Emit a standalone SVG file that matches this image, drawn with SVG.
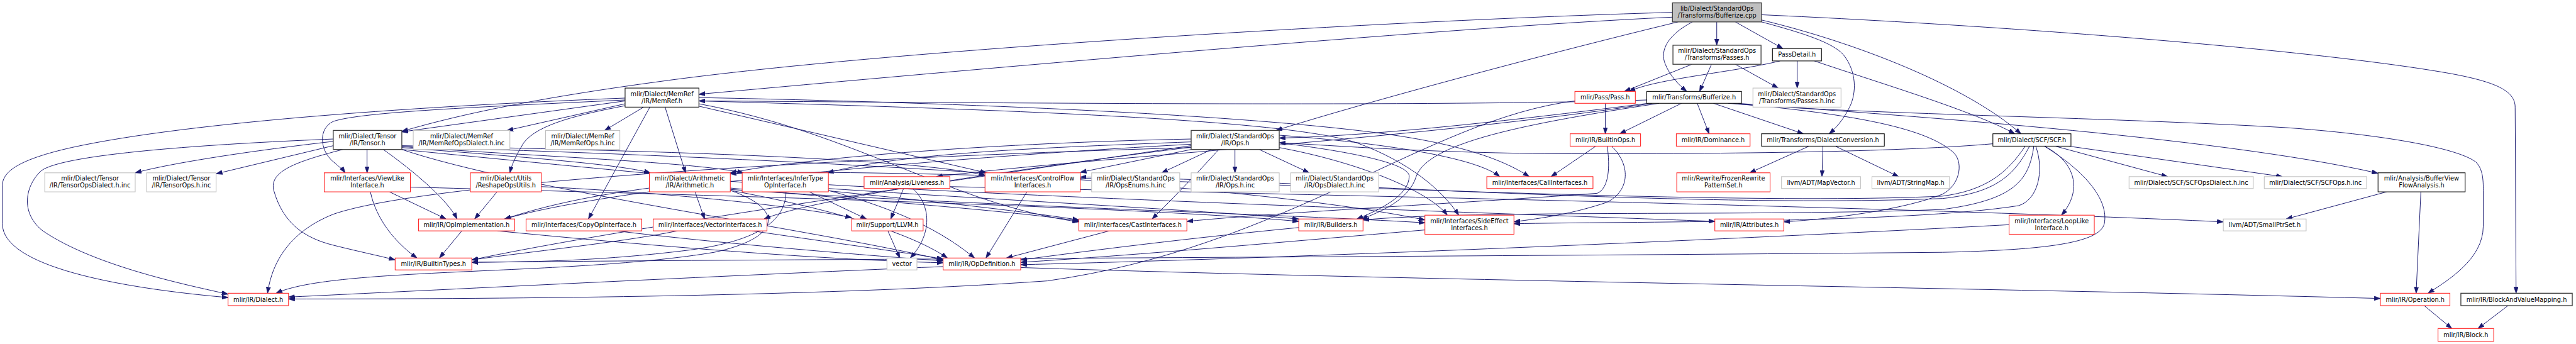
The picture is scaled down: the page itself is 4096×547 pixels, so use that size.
<svg xmlns="http://www.w3.org/2000/svg" width="4096" height="547" viewBox="0 0 4096 547">
<style>
.e{fill:none;stroke:#191970;stroke-width:1.3;marker-end:url(#a)}
rect{fill:#fff;stroke-width:1.4}
.k rect{stroke:#000}
.d rect{stroke:#404040;stroke-width:1.8}
.r rect{stroke:#ff2020}
.g rect{stroke:#bfbfbf}
.root rect{fill:#bfbfbf;stroke:#404040;stroke-width:1.8}
text{font-family:"DejaVu Sans",sans-serif;font-size:13px;fill:#000;text-anchor:middle}
</style>
<defs>
<marker id="a" markerUnits="userSpaceOnUse" markerWidth="13" markerHeight="10" refX="13" refY="5" orient="auto" viewBox="0 0 13 10"><path d="M0,0.5 L13,5 L0,9.5z" fill="#191970" stroke="#191970" stroke-width="1"/></marker>
</defs>
<rect x="0" y="0" width="4096" height="547" style="fill:#fff;stroke:none"/>
<g transform="scale(0.757)">
<g id="edges">
<path class="e" d="M3606,46 L3606,95"/>
<path class="e" d="M3645,46 L3745,102"/>
<path class="e" d="M3555,46 C3505,72 3485,105 3498,135 C3508,160 3528,180 3543,192"/>
<path class="e" d="M3700,46 C3790,70 3850,90 3872,115 C3900,150 3900,195 3885,225 C3872,252 3855,270 3842,281"/>
<path class="e" d="M3700,42 C3900,90 4130,180 4245,281"/>
<path class="e" d="M3700,31 C4300,58 4900,110 5150,155 C5240,172 5283,190 5283,225 L5285,616"/>
<path class="e" d="M3513,26 C3000,40 1900,100 1380,172 C1100,210 950,245 844,276"/>
<path class="e" d="M3513,36 C3000,60 2000,150 1468,198"/>
<path class="e" d="M3525,46 C3300,100 2900,205 2680,274"/>
<path class="e" d="M3554,135 L3412,192"/>
<path class="e" d="M3595,135 L3570,192"/>
<path class="e" d="M3645,135 L3735,185"/>
<path class="e" d="M3739,128 C3640,152 3480,165 3422,192"/>
<path class="e" d="M3775,128 L3775,185"/>
<path class="e" d="M3811,128 C3950,175 4150,235 4232,281"/>
<path class="e" d="M3532,217 L3402,281"/>
<path class="e" d="M3565,217 L3590,281"/>
<path class="e" d="M3599,217 L3788,281"/>
<path class="e" d="M3650,217 C3950,240 4650,285 4995,364"/>
<path class="e" d="M3630,217 C3900,240 4400,245 4800,268 C5000,282 5160,310 5200,340 C5216,355 5216,380 5216,400 L5216,475 C5216,545 5140,590 5100,616"/>
<path class="e" d="M3640,217 C3900,240 4050,270 4105,322 C4125,345 4115,390 4080,408 C4000,440 3850,460 3747,466"/>
<path class="e" d="M3459,210 C3000,225 2000,215 1468,212"/>
<path class="e" d="M3462,217 C3200,250 2900,285 2687,290"/>
<path class="e" d="M3470,217 C3000,290 2300,330 1967,371"/>
<path class="e" d="M3485,217 C3200,260 3000,300 2975,370 C2960,420 2900,445 2860,460"/>
<path class="e" d="M3372,217 L3372,281"/>
<path class="e" d="M3308,212 C3000,250 2700,520 2200,590 C1700,625 1000,628 606,628"/>
<path class="e" d="M3352,307 L3258,371"/>
<path class="e" d="M3385,307 C3425,345 3425,400 3375,425 C3300,450 3240,458 3180,466"/>
<path class="e" d="M3376,307 C3382,350 3380,395 3355,406 C3100,425 2700,445 2493,465"/>
<path class="e" d="M3800,307 L3675,363"/>
<path class="e" d="M3829,307 L3827,371"/>
<path class="e" d="M3855,307 L3988,371"/>
<path class="e" d="M4317,307 L4553,371"/>
<path class="e" d="M4345,307 L4794,371"/>
<path class="e" d="M4294,307 C4360,340 4375,400 4330,452"/>
<path class="e" d="M4186,302 C4000,318 3700,323 3300,323 C3000,322 2800,305 2687,300"/>
<path class="e" d="M4254,307 C4215,365 4170,400 4080,412 C3500,440 2000,345 1534,365"/>
<path class="e" d="M4263,307 C4230,370 4190,405 4080,417 C3500,440 2600,370 2269,372"/>
<path class="e" d="M4272,307 C4262,380 4230,420 4080,440 C3700,455 3100,440 2863,462"/>
<path class="e" d="M4276,307 C4295,360 4280,420 4240,432 C4000,470 3400,465 3180,470"/>
<path class="e" d="M4294,307 C4380,360 4430,420 4420,470 C4410,510 4300,525 4080,530 C3000,540 1500,545 991,551"/>
<path class="e" d="M1313,212 L844,277"/>
<path class="e" d="M1313,218 L1065,274"/>
<path class="e" d="M1352,225 L1270,274"/>
<path class="e" d="M1313,222 C1220,240 1130,260 1100,300 C1085,325 1075,345 1071,363"/>
<path class="e" d="M1365,225 L1236,460"/>
<path class="e" d="M1397,225 L1440,363"/>
<path class="e" d="M1468,223 L2072,363"/>
<path class="e" d="M1313,206 C900,222 400,255 150,310 C40,335 5,360 5,390 L5,470 C5,560 250,605 479,625"/>
<path class="e" d="M1313,210 C1000,225 760,235 700,255 C668,270 672,315 698,338 C712,350 720,356 725,363"/>
<path class="e" d="M1468,205 C2000,215 2600,240 2900,280 C3050,300 3150,330 3212,371"/>
<path class="e" d="M1468,218 C1800,280 2000,430 2266,466"/>
<path class="e" d="M1468,212 C2100,230 2700,250 2850,300 C2960,340 3030,400 3064,452"/>
<path class="e" d="M700,297 C500,320 350,345 284,363"/>
<path class="e" d="M700,306 L454,365"/>
<path class="e" d="M700,292 C500,300 130,320 85,360 C50,395 45,450 90,485 C200,560 400,600 479,618"/>
<path class="e" d="M771,314 L771,363"/>
<path class="e" d="M805,314 C870,360 940,420 960,460"/>
<path class="e" d="M720,314 C620,340 565,360 575,400 C595,470 640,500 700,515 C760,530 800,538 830,546"/>
<path class="e" d="M844,310 C1100,330 1300,345 1366,363"/>
<path class="e" d="M844,308 C1150,330 1450,340 1562,363"/>
<path class="e" d="M844,314 C1300,360 2000,420 2266,462"/>
<path class="e" d="M844,306 C1300,315 1900,330 2069,368"/>
<path class="e" d="M844,308 C1600,330 2600,380 2993,462"/>
<path class="e" d="M844,314 C1100,400 1700,480 1981,546"/>
<path class="e" d="M2502,314 L2269,362"/>
<path class="e" d="M2545,314 L2440,363"/>
<path class="e" d="M2594,314 L2594,363"/>
<path class="e" d="M2645,314 L2750,363"/>
<path class="e" d="M2502,292 C2100,300 1700,330 1534,363"/>
<path class="e" d="M2687,300 C2850,320 2960,345 2960,370 C2960,410 2900,440 2850,460"/>
<path class="e" d="M2502,306 C2000,380 1300,480 991,546"/>
<path class="e" d="M2502,310 C1800,330 900,380 700,450 C600,490 570,560 562,616"/>
<path class="e" d="M2502,303 C2000,330 1300,390 1060,460"/>
<path class="e" d="M2687,284 C2900,300 3100,330 3150,371"/>
<path class="e" d="M2560,314 C2500,380 2450,430 2420,460"/>
<path class="e" d="M2502,298 C2200,310 1900,320 1738,363"/>
<path class="e" d="M2687,310 C2850,340 3000,400 3040,452"/>
<path class="e" d="M2502,309 C2100,360 1700,420 1605,460"/>
<path class="e" d="M778,403 C790,460 830,510 876,542"/>
<path class="e" d="M818,403 L937,460"/>
<path class="e" d="M862,393 C1500,410 2400,435 2728,465"/>
<path class="e" d="M1044,403 L997,460"/>
<path class="e" d="M1137,392 C1400,405 1650,430 1789,457"/>
<path class="e" d="M1460,403 L1480,460"/>
<path class="e" d="M1364,395 C1250,410 1150,430 1060,460"/>
<path class="e" d="M1534,400 C1700,430 1900,480 1990,542"/>
<path class="e" d="M1534,395 C1800,420 2100,440 2266,464"/>
<path class="e" d="M1534,398 C2000,430 2700,450 2993,468"/>
<path class="e" d="M1534,400 C1650,440 1640,500 1500,530 C1200,580 700,560 580,616"/>
<path class="e" d="M1700,403 L1820,460"/>
<path class="e" d="M1651,403 C1650,460 1600,505 1450,525 C1250,550 1100,550 991,551"/>
<path class="e" d="M1740,388 C2300,420 3200,450 3602,465"/>
<path class="e" d="M1740,396 C2100,420 2500,440 2728,460"/>
<path class="e" d="M1740,400 C1850,430 1960,470 2047,542"/>
<path class="e" d="M1898,396 L1871,460"/>
<path class="e" d="M1917,396 C1955,430 1960,490 1912,542"/>
<path class="e" d="M1995,392 C2800,410 4000,435 4670,466"/>
<path class="e" d="M1865,485 L1890,542"/>
<path class="e" d="M2157,403 L2071,542"/>
<path class="e" d="M2330,485 L2114,542"/>
<path class="e" d="M2728,478 C2500,500 2300,525 2144,546"/>
<path class="e" d="M2993,483 C2700,508 2400,535 2144,551"/>
<path class="e" d="M1423,485 C1300,510 1100,530 991,546"/>
<path class="e" d="M1580,485 C1750,510 1900,530 1981,544"/>
<path class="e" d="M1295,485 C1500,510 1800,535 1981,548"/>
<path class="e" d="M970,485 L923,542"/>
<path class="e" d="M1045,485 C1300,510 1700,545 1981,552"/>
<path class="e" d="M4220,472 C3800,495 2800,540 2144,556"/>
<path class="e" d="M1981,560 C1500,580 900,610 606,624"/>
<path class="e" d="M2144,562 C3000,590 4200,605 5000,627"/>
<path class="e" d="M5013,403 L4802,460"/>
<path class="e" d="M5085,403 L5075,616"/>
<path class="e" d="M5092,642 L5150,690"/>
<path class="e" d="M5268,642 L5205,690"/>
</g>
<g id="n_root" class="root"><rect x="3513" y="6" width="187" height="40"/><text x="3606.5" y="22.5">lib/Dialect/StandardOps</text><text x="3606.5" y="37">/Transforms/Bufferize.cpp</text></g>
<g id="n_passes" class="d"><rect x="3514" y="95" width="185" height="40"/><text x="3606.5" y="111.5">mlir/Dialect/StandardOps</text><text x="3606.5" y="126">/Transforms/Passes.h</text></g>
<g id="n_passdetail" class="k"><rect x="3723" y="102" width="103" height="26"/><text x="3774.5" y="119.5">PassDetail.h</text></g>
<g id="n_memref" class="k"><rect x="1313" y="185" width="155" height="40"/><text x="1390.5" y="201.5">mlir/Dialect/MemRef</text><text x="1390.5" y="216">/IR/MemRef.h</text></g>
<g id="n_pass" class="r"><rect x="3308" y="192" width="127" height="25"/><text x="3371.5" y="209">mlir/Pass/Pass.h</text></g>
<g id="n_tbufferize" class="k"><rect x="3459" y="192" width="199" height="25"/><text x="3558.5" y="209">mlir/Transforms/Bufferize.h</text></g>
<g id="n_passesinc" class="g"><rect x="3682" y="185" width="185" height="40"/><text x="3774.5" y="201.5">mlir/Dialect/StandardOps</text><text x="3774.5" y="216">/Transforms/Passes.h.inc</text></g>
<g id="n_tensor" class="d"><rect x="700" y="274" width="144" height="40"/><text x="772" y="290.5">mlir/Dialect/Tensor</text><text x="772" y="305">/IR/Tensor.h</text></g>
<g id="n_memrefopsdialect" class="g"><rect x="868" y="274" width="203" height="40"/><text x="969.5" y="290.5">mlir/Dialect/MemRef</text><text x="969.5" y="305">/IR/MemRefOpsDialect.h.inc</text></g>
<g id="n_memrefops" class="g"><rect x="1146" y="274" width="156" height="40"/><text x="1224" y="290.5">mlir/Dialect/MemRef</text><text x="1224" y="305">/IR/MemRefOps.h.inc</text></g>
<g id="n_stdops" class="d"><rect x="2502" y="274" width="185" height="40"/><text x="2594.5" y="290.5">mlir/Dialect/StandardOps</text><text x="2594.5" y="305">/IR/Ops.h</text></g>
<g id="n_builtinops" class="r"><rect x="3298" y="281" width="148" height="26"/><text x="3372" y="298.5">mlir/IR/BuiltinOps.h</text></g>
<g id="n_dominance" class="r"><rect x="3521" y="281" width="155" height="26"/><text x="3598.5" y="298.5">mlir/IR/Dominance.h</text></g>
<g id="n_dialectconversion" class="k"><rect x="3700" y="281" width="258" height="26"/><text x="3829" y="298.5">mlir/Transforms/DialectConversion.h</text></g>
<g id="n_scf" class="k"><rect x="4186" y="281" width="164" height="26"/><text x="4268" y="298.5">mlir/Dialect/SCF/SCF.h</text></g>
<g id="n_tensoropsdialect" class="g"><rect x="94" y="363" width="190" height="40"/><text x="189" y="379.5">mlir/Dialect/Tensor</text><text x="189" y="394">/IR/TensorOpsDialect.h.inc</text></g>
<g id="n_tensorops" class="g"><rect x="308" y="363" width="146" height="40"/><text x="381" y="379.5">mlir/Dialect/Tensor</text><text x="381" y="394">/IR/TensorOps.h.inc</text></g>
<g id="n_viewlike" class="r"><rect x="681" y="363" width="181" height="40"/><text x="771.5" y="379.5">mlir/Interfaces/ViewLike</text><text x="771.5" y="394">Interface.h</text></g>
<g id="n_reshape" class="r"><rect x="988" y="363" width="149" height="40"/><text x="1062.5" y="379.5">mlir/Dialect/Utils</text><text x="1062.5" y="394">/ReshapeOpsUtils.h</text></g>
<g id="n_arith" class="r"><rect x="1364" y="363" width="170" height="40"/><text x="1449" y="379.5">mlir/Dialect/Arithmetic</text><text x="1449" y="394">/IR/Arithmetic.h</text></g>
<g id="n_infertype" class="r"><rect x="1559" y="363" width="181" height="40"/><text x="1649.5" y="379.5">mlir/Interfaces/InferType</text><text x="1649.5" y="394">OpInterface.h</text></g>
<g id="n_liveness" class="r"><rect x="1815" y="371" width="180" height="25"/><text x="1905" y="388">mlir/Analysis/Liveness.h</text></g>
<g id="n_controlflow" class="r"><rect x="2069" y="363" width="200" height="40"/><text x="2169" y="379.5">mlir/Interfaces/ControlFlow</text><text x="2169" y="394">Interfaces.h</text></g>
<g id="n_opsenums" class="g"><rect x="2293" y="363" width="185" height="40"/><text x="2385.5" y="379.5">mlir/Dialect/StandardOps</text><text x="2385.5" y="394">/IR/OpsEnums.h.inc</text></g>
<g id="n_opsinc" class="g"><rect x="2502" y="363" width="185" height="40"/><text x="2594.5" y="379.5">mlir/Dialect/StandardOps</text><text x="2594.5" y="394">/IR/Ops.h.inc</text></g>
<g id="n_opsdialect" class="g"><rect x="2711" y="363" width="185" height="40"/><text x="2803.5" y="379.5">mlir/Dialect/StandardOps</text><text x="2803.5" y="394">/IR/OpsDialect.h.inc</text></g>
<g id="n_callinterfaces" class="r"><rect x="3123" y="371" width="223" height="25"/><text x="3234.5" y="388">mlir/Interfaces/CallInterfaces.h</text></g>
<g id="n_frozen" class="r"><rect x="3522" y="363" width="196" height="40"/><text x="3620" y="379.5">mlir/Rewrite/FrozenRewrite</text><text x="3620" y="394">PatternSet.h</text></g>
<g id="n_mapvector" class="g"><rect x="3742" y="371" width="166" height="25"/><text x="3825" y="388">llvm/ADT/MapVector.h</text></g>
<g id="n_stringmap" class="g"><rect x="3932" y="371" width="163" height="25"/><text x="4013.5" y="388">llvm/ADT/StringMap.h</text></g>
<g id="n_scfopsdialect" class="g"><rect x="4472" y="371" width="261" height="25"/><text x="4602.5" y="388">mlir/Dialect/SCF/SCFOpsDialect.h.inc</text></g>
<g id="n_scfops" class="g"><rect x="4756" y="371" width="215" height="25"/><text x="4863.5" y="388">mlir/Dialect/SCF/SCFOps.h.inc</text></g>
<g id="n_bufferview" class="k"><rect x="4995" y="363" width="183" height="40"/><text x="5086.5" y="379.5">mlir/Analysis/BufferView</text><text x="5086.5" y="394">FlowAnalysis.h</text></g>
<g id="n_opimpl" class="r"><rect x="879" y="460" width="202" height="25"/><text x="980" y="477">mlir/IR/OpImplementation.h</text></g>
<g id="n_copyop" class="r"><rect x="1105" y="460" width="243" height="25"/><text x="1226.5" y="477">mlir/Interfaces/CopyOpInterface.h</text></g>
<g id="n_vectorinterfaces" class="r"><rect x="1372" y="460" width="239" height="25"/><text x="1491.5" y="477">mlir/Interfaces/VectorInterfaces.h</text></g>
<g id="n_llvm" class="r"><rect x="1789" y="460" width="150" height="25"/><text x="1864" y="477">mlir/Support/LLVM.h</text></g>
<g id="n_cast" class="r"><rect x="2266" y="460" width="227" height="25"/><text x="2379.5" y="477">mlir/Interfaces/CastInterfaces.h</text></g>
<g id="n_builders" class="r"><rect x="2728" y="460" width="135" height="25"/><text x="2795.5" y="477">mlir/IR/Builders.h</text></g>
<g id="n_sideeffect" class="r"><rect x="2993" y="452" width="187" height="40"/><text x="3086.5" y="468.5">mlir/Interfaces/SideEffect</text><text x="3086.5" y="483">Interfaces.h</text></g>
<g id="n_attributes" class="r"><rect x="3602" y="460" width="145" height="25"/><text x="3674.5" y="477">mlir/IR/Attributes.h</text></g>
<g id="n_looplike" class="r"><rect x="4220" y="452" width="179" height="40"/><text x="4309.5" y="468.5">mlir/Interfaces/LoopLike</text><text x="4309.5" y="483">Interface.h</text></g>
<g id="n_smallptrset" class="g"><rect x="4670" y="460" width="174" height="25"/><text x="4757" y="477">llvm/ADT/SmallPtrSet.h</text></g>
<g id="n_builtintypes" class="r"><rect x="830" y="542" width="161" height="25"/><text x="910.5" y="559">mlir/IR/BuiltinTypes.h</text></g>
<g id="n_vector" class="g"><rect x="1863" y="542" width="63" height="25"/><text x="1894.5" y="559">vector</text></g>
<g id="n_opdefinition" class="r"><rect x="1981" y="542" width="163" height="25"/><text x="2062.5" y="559">mlir/IR/OpDefinition.h</text></g>
<g id="n_dialect" class="r"><rect x="479" y="616" width="127" height="26"/><text x="542.5" y="633.5">mlir/IR/Dialect.h</text></g>
<g id="n_operation" class="r"><rect x="5000" y="616" width="146" height="26"/><text x="5073" y="633.5">mlir/IR/Operation.h</text></g>
<g id="n_bavm" class="d"><rect x="5169" y="616" width="234" height="26"/><text x="5286" y="633.5">mlir/IR/BlockAndValueMapping.h</text></g>
<g id="n_block" class="r"><rect x="5121" y="690" width="117" height="27"/><text x="5179.5" y="708">mlir/IR/Block.h</text></g>
</g>
</svg>
